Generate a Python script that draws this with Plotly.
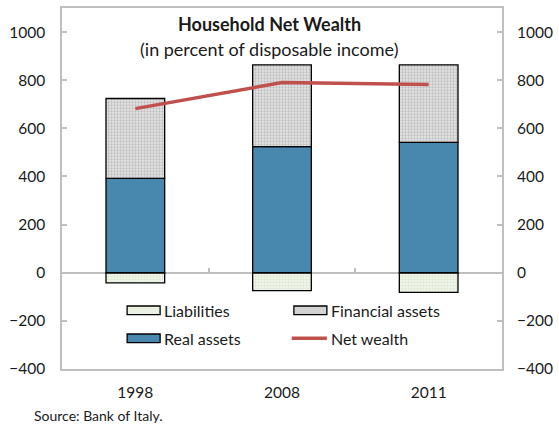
import plotly.graph_objects as go

# Household balance sheet, percent of disposable income
years = ["1998", "2008", "2011"]
real_assets = [392, 524, 542]
financial_assets = [332, 340, 322]
liabilities = [-42, -74, -82]
net_wealth = [682, 790, 782]

y_ticks = [-400, -200, 0, 200, 400, 600, 800, 1000]

FONT = "Lato"
TEXT = "#1a1a1a"
outline = dict(color="#000000", width=1.3)

liab_fill = "#eaf1e0"
fin_fill = "#d2d2d2"
real_fill = "#4888ae"
net_color = "#c0504d"

fig = go.Figure()

fig.add_trace(go.Bar(
    x=years, y=liabilities, name="Liabilities",
    marker=dict(color=liab_fill, line=outline,
                pattern=dict(shape=".", fgcolor="#c9d8b9", bgcolor="#f1f6ea",
                             size=3, solidity=0.4)),
    width=0.4,
))
fig.add_trace(go.Bar(
    x=years, y=real_assets, name="Real assets",
    marker=dict(color=real_fill, line=outline),
    width=0.4,
))
fig.add_trace(go.Bar(
    x=years, y=financial_assets, name="Financial assets",
    marker=dict(color=fin_fill, line=outline,
                pattern=dict(shape=".", fgcolor="#9a9a9a", bgcolor="#e4e4e4",
                             size=3, solidity=0.45)),
    width=0.4,
))
fig.add_trace(go.Scatter(
    x=years, y=net_wealth, name="Net wealth",
    mode="lines", line=dict(color=net_color, width=3.5),
))

axis_grey = "#bfbfbf"
yrange = [-400, 1100]

# Legend drawn as a two-column key inside the plot area
key_rows = {"top": 0.1625, "bottom": 0.085}
key_cols = {"left": 0.148, "right": 0.527}
swatch_w, swatch_h = 0.075, 0.012
key_items = [
    ("Liabilities", "left", "top", "box", liab_fill),
    ("Financial assets", "right", "top", "box", fin_fill),
    ("Real assets", "left", "bottom", "box", real_fill),
    ("Net wealth", "right", "bottom", "line", net_color),
]
shapes, annotations = [], []
for label, col, row, kind, color in key_items:
    x0 = key_cols[col]
    yc = key_rows[row]
    if kind == "box":
        shapes.append(dict(type="rect", xref="paper", yref="paper",
                           x0=x0, x1=x0 + swatch_w, y0=yc - swatch_h, y1=yc + swatch_h,
                           fillcolor=color, line=dict(color="#000000", width=1.3)))
    else:
        shapes.append(dict(type="line", xref="paper", yref="paper",
                           x0=x0 - 0.005, x1=x0 + swatch_w, y0=yc, y1=yc,
                           line=dict(color=color, width=3.5)))
    annotations.append(dict(text=label, xref="paper", yref="paper",
                            x=x0 + swatch_w + 0.005, y=yc, xanchor="left", yanchor="middle",
                            showarrow=False, font=dict(family=FONT, size=16, color=TEXT)))

annotations += [
    dict(text="<b>Household Net Wealth</b>", xref="paper", yref="paper",
         x=0.471, y=0.956, xanchor="center", yanchor="middle", showarrow=False,
         font=dict(family=FONT, size=18, color=TEXT)),
    dict(text="(in percent of disposable income)", xref="paper", yref="paper",
         x=0.471, y=0.887, xanchor="center", yanchor="middle", showarrow=False,
         font=dict(family=FONT, size=18, color=TEXT)),
    dict(text="Source: Bank of Italy.", xref="paper", yref="paper",
         x=-0.068, y=-0.128, xanchor="left", yanchor="middle", showarrow=False,
         font=dict(family=FONT, size=14, color=TEXT)),
]

fig.update_layout(
    width=559, height=425,
    margin=dict(l=62, r=51, t=6, b=56),
    paper_bgcolor="white", plot_bgcolor="white",
    barmode="relative",
    font=dict(family=FONT, size=15, color=TEXT),
    showlegend=False,
    shapes=shapes,
    annotations=annotations,
    xaxis=dict(
        type="category", range=[-0.5, 2.5],
        showline=True, linecolor=axis_grey, linewidth=1.5, mirror=True,
        ticks="", showgrid=False, ticklabelstandoff=9,
        tickfont=dict(family=FONT, size=15.5, color=TEXT),
    ),
    xaxis2=dict(
        overlaying="x", anchor="free", position=(0 - yrange[0]) / (yrange[1] - yrange[0]),
        range=[-0.5, 2.5], tickvals=[0.5, 1.5], ticks="inside", ticklen=5,
        tickcolor=axis_grey, tickwidth=1.5, showticklabels=False,
        showline=False, showgrid=False, zeroline=False,
    ),
    yaxis=dict(
        range=yrange, tickvals=y_ticks, ticks="inside", ticklen=5,
        tickcolor=axis_grey, tickwidth=1.5,
        showline=True, linecolor=axis_grey, linewidth=1.5, mirror=True,
        showgrid=False, zeroline=True, zerolinecolor=axis_grey, zerolinewidth=1.5,
        ticklabelstandoff=12,
        tickfont=dict(family=FONT, size=15.5, color=TEXT),
    ),
    yaxis2=dict(
        overlaying="y", side="right", range=yrange, tickvals=y_ticks,
        ticks="inside", ticklen=5, tickcolor=axis_grey, tickwidth=1.5,
        showgrid=False, zeroline=False, showline=False,
        ticklabelstandoff=14,
        tickfont=dict(family=FONT, size=15.5, color=TEXT),
    ),
)

# invisible traces so the secondary axes are rendered
fig.add_trace(go.Scatter(x=[0.5], y=[0], xaxis="x2", yaxis="y", mode="markers",
                         marker=dict(opacity=0), showlegend=False, hoverinfo="skip"))
fig.add_trace(go.Scatter(x=years[:1], y=[0], xaxis="x", yaxis="y2", mode="markers",
                         marker=dict(opacity=0), showlegend=False, hoverinfo="skip"))

fig.write_html("out.html")
